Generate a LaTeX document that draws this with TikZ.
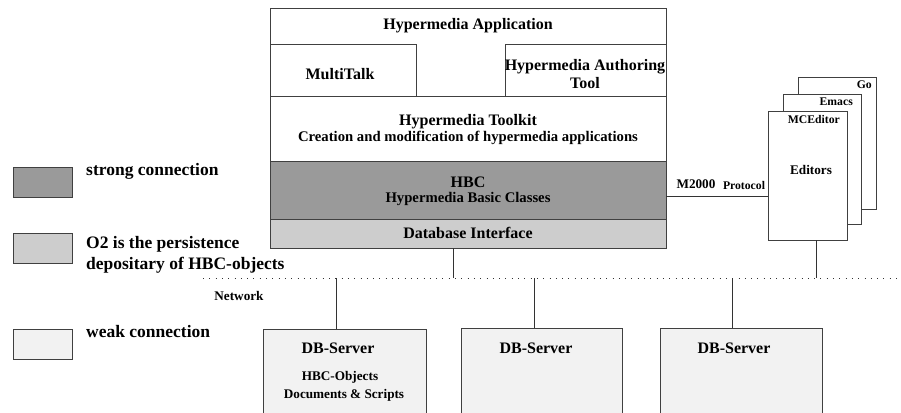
\documentclass[tikz,border=0pt]{standalone}
\usepackage{fontspec}
\setmainfont{Liberation Serif}
\usepackage{tikz}
\usetikzlibrary{positioning}

\definecolor{strong}{HTML}{9A9A9A}
\definecolor{persist}{HTML}{CDCDCD}
\definecolor{weak}{HTML}{F2F2F2}

\tikzset{
  box/.style={draw=black!75, line width=0.8pt, anchor=north west, inner sep=0pt, outer sep=0pt},
  big/.style={font=\bfseries\fontsize{16}{18}\selectfont, inner sep=0pt, align=center},
  mid/.style={font=\bfseries\fontsize{14.7}{16}\selectfont, inner sep=0pt, align=center},
  small/.style={font=\bfseries\fontsize{13.2}{15}\selectfont, inner sep=0pt, align=center},
  tiny/.style={font=\bfseries\fontsize{11.7}{13}\selectfont, inner sep=0pt},
  legend/.style={font=\bfseries\fontsize{17.5}{21}\selectfont, inner sep=0pt, align=left, anchor=west},
  link/.style={draw=black!80, line width=0.9pt},
}

\begin{document}
\begin{tikzpicture}[x=1pt, y=-1pt]
        \clip (0,0) rectangle (901,412);
        % application stack
        \node[box, minimum width=396pt, minimum height=88pt] (app) at (270,8) {};
        \node[box, minimum width=146pt, minimum height=52pt] (mtalk) at (270,44) {};
        \node[box, minimum width=161pt, minimum height=52pt] (author) at (505,44) {};
        \node[box, minimum width=396pt, minimum height=65pt] (toolkit) at (270,96) {};
        \node[box, fill=strong, minimum width=396pt, minimum height=58pt] (hbc) at (270,161) {};
        \node[box, fill=persist, minimum width=396pt, minimum height=29pt] (dbi) at (270,219) {};
        \node[big] (apptext) at (468,26) {Hypermedia Application};
        \node[big] (mtalktext) at (340,74) {MultiTalk};
        \node[big] (authortext) at (585,74) {Hypermedia Authoring\\Tool};
        \node[big] (tktitle) at (468,122) {Hypermedia Toolkit};
        \node[mid] (tkdesc) at (468,138) {Creation and modification of hypermedia applications};
        \node[big] (hbctitle) at (468,182) {HBC};
        \node[mid] (hbcdesc) at (468,199) {Hypermedia Basic Classes};
        \node[big] (dbitext) at (468,233) {Database Interface};
        % editors
        \node[box, fill=white, minimum width=78pt, minimum height=132pt] (go) at (798,77) {};
        \node[box, fill=white, minimum width=78pt, minimum height=130pt] (emacs) at (783,94) {};
        \node[box, fill=white, minimum width=79pt, minimum height=129pt] (mce) at (768,111) {};
        \node[tiny, anchor=north east] (gotext) at ([xshift=-4pt, yshift=-4pt]go.north east) {Go};
        \node[tiny, anchor=north east] (emacstext) at ([xshift=-8pt, yshift=-4pt]emacs.north east) {Emacs};
        \node[tiny, anchor=north east] (mcetext) at ([xshift=-7pt, yshift=-4pt]mce.north east) {MCEditor};
        \node[small] (edtext) at (811,170) {Editors};
        \coordinate (proto) at (666,196);
        \draw[link] (proto) -- (proto -| mce.west);
        \node[small] (m2k) at (696,184) {M2000};
        \node[tiny] (protext) at (744,185) {Protocol};
        % network
        \coordinate (netL) at (203,278);
        \coordinate (netR) at (901,278);
        \draw[black!80, line width=1pt, dash pattern=on 1pt off 5.3pt] (netL) -- (netR);
        \node[small] (nettext) at (239,296) {Network};
        \coordinate (tapdb) at (453,278);
        \coordinate (taped) at (816,278);
        \draw[link] (tapdb |- dbi.south) -- (tapdb);
        \draw[link] (taped |- mce.south) -- (taped);
        % servers
        \node[box, fill=weak, minimum width=163pt, minimum height=110pt] (srv1) at (263,329) {};
        \node[box, fill=weak, minimum width=161pt, minimum height=110pt] (srv2) at (461,328) {};
        \node[box, fill=weak, minimum width=162pt, minimum height=110pt] (srv3) at (660,328) {};
        \coordinate (tap1) at (336,278);
        \coordinate (tap2) at (534,278);
        \coordinate (tap3) at (732,278);
        \draw[link] (tap1) -- (tap1 |- srv1.north);
        \draw[link] (tap2) -- (tap2 |- srv2.north);
        \draw[link] (tap3) -- (tap3 |- srv3.north);
        \node[big] (srv1text) at (338,348) {DB-Server};
        \node[big] (srv2text) at (536,348) {DB-Server};
        \node[big] (srv3text) at (734,348) {DB-Server};
        \node[small] (objtext) at (340,377) {HBC-Objects};
        \node[small] (doctext) at (344,395) {Documents \& Scripts};
        % legend
        \node[box, fill=strong, minimum width=59pt, minimum height=30pt] (keystrong) at (13,167) {};
        \node[box, fill=persist, minimum width=59pt, minimum height=30pt] (keypersist) at (13,233) {};
        \node[box, fill=weak, minimum width=59pt, minimum height=30pt] (keyweak) at (13,329) {};
        \node[legend] (strongtext) at (86,171) {strong connection};
        \node[legend] (persisttext) at (86,254.5) {O2 is the persistence\\depositary of HBC-objects};
        \node[legend] (weaktext) at (86,332) {weak connection};
    \end{tikzpicture}
\end{document}
